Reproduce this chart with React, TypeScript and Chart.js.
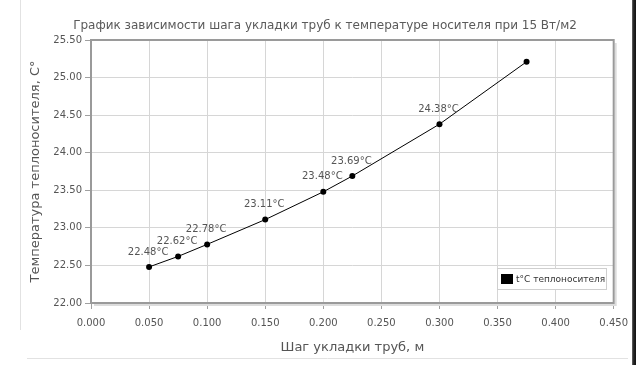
import { useEffect, useRef } from "react";
import { Chart, registerables } from "chart.js";

Chart.register(...registerables);

// ---- data ----
const pipeSpacing = [0.05, 0.075, 0.1, 0.15, 0.2, 0.225, 0.3, 0.375];
const carrierTemp = [22.48, 22.62, 22.78, 23.11, 23.48, 23.69, 24.38, 25.21];
const showValueLabel = [true, true, true, true, true, true, true, false];
const seriesName = "t°C теплоносителя";
const chartTitle = "График зависимости шага укладки труб к температуре носителя при 15 Вт/м2";
const xAxisTitle = "Шаг укладки труб, м";
const yAxisTitle = "Температура теплоносителя, С°";
const xTicksRange = [0, 0.45, 0.05];
const yTicksRange = [22, 25.5, 0.5];

const FONT = "'DejaVu Sans', sans-serif";

const decorPlugin = {
  id: "decor",
  beforeDraw(chart: any) {
    const { ctx, chartArea: a, width, height } = chart;
    ctx.save();
    ctx.fillStyle = "#ffffff";
    ctx.fillRect(0, 0, width, height);
    // outer frame lines
    ctx.strokeStyle = "#e2e2e2";
    ctx.lineWidth = 1;
    ctx.beginPath();
    ctx.moveTo(20.5, 0);
    ctx.lineTo(20.5, 330);
    ctx.moveTo(27, 358.5);
    ctx.lineTo(628, 358.5);
    ctx.stroke();
    ctx.restore();
  },
  beforeDatasetsDraw(chart: any) {
    const { ctx, chartArea: a } = chart;
    ctx.save();
    // shadow
    ctx.strokeStyle = "#dcdcdc";
    ctx.lineWidth = 2;
    ctx.beginPath();
    ctx.moveTo(a.right + 2, a.top + 3);
    ctx.lineTo(a.right + 2, a.bottom + 2);
    ctx.lineTo(a.left + 3, a.bottom + 2);
    ctx.stroke();
    ctx.strokeStyle = "#9a9a9a";
    ctx.lineWidth = 2;
    ctx.strokeRect(a.left, a.top, a.right - a.left, a.bottom - a.top);
    ctx.restore();
  },
  beforeDatasetsUpdate() {},
  afterDatasetsDraw(chart: any) {
    const { ctx } = chart;
    const meta = chart.getDatasetMeta(0);
    ctx.save();
    ctx.font = `10px ${FONT}`;
    ctx.fillStyle = "#555555";
    ctx.textAlign = "center";
    ctx.textBaseline = "middle";
    meta.data.forEach((pt: any, i: number) => {
      if (!showValueLabel[i]) return;
      ctx.fillText(`${carrierTemp[i].toFixed(2)}°C`, pt.x - 1, pt.y - 15);
    });
    // legend
    const lx = 497, ly = 268, lw = 109, lh = 21;
    ctx.fillStyle = "#ffffff";
    ctx.fillRect(lx, ly, lw, lh);
    ctx.strokeStyle = "#cfcfcf";
    ctx.lineWidth = 1;
    ctx.strokeRect(lx + 0.5, ly + 0.5, lw, lh);
    ctx.fillStyle = "#000000";
    ctx.fillRect(lx + 4, ly + 6, 12, 10);
    ctx.font = `9px ${FONT}`;
    ctx.fillStyle = "#333333";
    ctx.textAlign = "left";
    ctx.fillText(chart.data.datasets[0].label, lx + 19, ly + 11.5);
    ctx.restore();
  },
  afterDraw(chart: any) {
    const { ctx, height } = chart;
    ctx.save();
    ctx.font = `12px ${FONT}`;
    ctx.fillStyle = "#5a5a5a";
    ctx.textAlign = "center";
    ctx.textBaseline = "alphabetic";
    ctx.fillText(chartTitle, 325, 29);
    // dark strip right
    const g = ctx.createLinearGradient(632, 0, 636, 0);
    g.addColorStop(0, "#6a6a6a");
    g.addColorStop(0.4, "#262626");
    g.addColorStop(1, "#111111");
    ctx.fillStyle = g;
    ctx.fillRect(632, 0, 4, height);
    ctx.restore();
  },
};

export default function App() {
  const ref = useRef<HTMLCanvasElement | null>(null);
  useEffect(() => {
    if (!ref.current) return;
    const chart = new Chart(ref.current, {
      type: "line",
      data: {
        datasets: [
          {
            label: seriesName,
            data: pipeSpacing.map((x, i) => ({ x, y: carrierTemp[i] })),
            borderColor: "#000000",
            backgroundColor: "#000000",
            borderWidth: 1,
            pointRadius: 3,
            pointBackgroundColor: "#000000",
            pointBorderWidth: 0,
            tension: 0,
            fill: false,
          },
        ],
      },
      plugins: [decorPlugin],
      options: {
        animation: false,
        responsive: false,
        layout: { padding: { left: 0, top: 40, right: 18, bottom: 0 } },
        plugins: {
          legend: { display: false },
          title: { display: false },
          tooltip: { enabled: false },
        },
        scales: {
          x: {
            type: "linear",
            min: xTicksRange[0],
            max: xTicksRange[1],
            ticks: {
              stepSize: xTicksRange[2],
              callback: (v: any) => Number(v).toFixed(3),
              font: { family: FONT, size: 10 },
              color: "#555555",
              padding: 8,
              maxRotation: 0,
              autoSkip: false,
            },
            grid: { color: "#d6d6d6", tickColor: "#a0a0a0", tickLength: 6, lineWidth: 1 },
            border: { display: false },
            title: {
              display: true,
              text: xAxisTitle,
              font: { family: FONT, size: 13 },
              color: "#555555",
              padding: { top: 0, bottom: 10 },
            },
            afterFit: (s: any) => {
              s.height = 62;
            },
          },
          y: {
            min: yTicksRange[0],
            max: yTicksRange[1],
            ticks: {
              stepSize: yTicksRange[2],
              callback: (v: any) => Number(v).toFixed(2),
              font: { family: FONT, size: 10 },
              color: "#555555",
              padding: 3,
            },
            grid: { color: "#d6d6d6", tickColor: "#a0a0a0", tickLength: 6, lineWidth: 1 },
            border: { display: false },
            title: {
              display: true,
              text: yAxisTitle,
              font: { family: FONT, size: 13 },
              color: "#555555",
              padding: { top: 28, bottom: 0 },
            },
            afterFit: (s: any) => {
              s.width = 91;
            },
          },
        },
      },
    } as any);
    return () => chart.destroy();
  }, []);
  return (
    <div style={{ position: "fixed", left: 0, top: 0, width: 636, height: 365 }}>
      <canvas ref={ref} width={636} height={365} style={{ display: "block" }} />
    </div>
  );
}
